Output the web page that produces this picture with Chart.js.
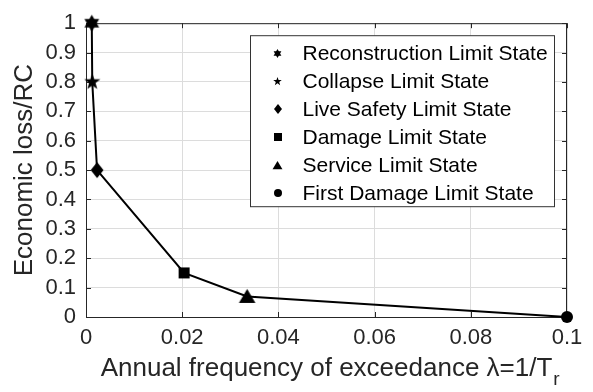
<!DOCTYPE html>
<html>
<head>
<meta charset="utf-8">
<script src="https://cdn.jsdelivr.net/npm/chart.js@4/dist/chart.umd.min.js"></script>
<style>
  html, body { margin: 0; padding: 0; background: #fff; }
  canvas { display: block; }
</style>
</head>
<body>
<canvas id="chart" width="593" height="392"></canvas>
<script>
// Limit states, their annual exceedance frequency and normalised economic loss
const limitStates = [
  'Reconstruction Limit State',
  'Collapse Limit State',
  'Live Safety Limit State',
  'Damage Limit State',
  'Service Limit State',
  'First Damage Limit State'
];
const markerShapes = ['hexagram', 'star', 'diamond', 'square', 'triangle', 'circle'];
const annualFrequency = [0.0012, 0.0013, 0.0023, 0.0204, 0.0335, 0.1];
const economicLoss = [1.0, 0.8, 0.5, 0.15, 0.07, 0.0];
const xTickLabels = ['0', '0.02', '0.04', '0.06', '0.08', '0.1'];
const yTickLabels = ['0', '0.1', '0.2', '0.3', '0.4', '0.5', '0.6', '0.7', '0.8', '0.9', '1'];

const FONT = '"Liberation Sans", Arial, sans-serif';
const TICK_SIZE = 22;
const TITLE_SIZE = 26;
const LEGEND_SIZE = 21;

// Build a small canvas holding one filled marker glyph
function makeMarker(shape, r) {
  const pad = 2;
  const s = Math.ceil(2 * r + 2 * pad);
  const c = document.createElement('canvas');
  c.width = s; c.height = s;
  const g = c.getContext('2d');
  g.fillStyle = '#000';
  g.translate(s / 2, s / 2);
  const poly = (pts) => {
    g.beginPath();
    pts.forEach((p, i) => i ? g.lineTo(p[0], p[1]) : g.moveTo(p[0], p[1]));
    g.closePath();
    g.fill();
  };
  if (shape === 'hexagram') {
    for (let t = 0; t < 2; t++) {
      const pts = [];
      for (let i = 0; i < 3; i++) {
        const a = -Math.PI / 2 + t * Math.PI + i * 2 * Math.PI / 3;
        pts.push([r * Math.cos(a), r * Math.sin(a)]);
      }
      poly(pts);
    }
  } else if (shape === 'star') {
    const pts = [];
    for (let i = 0; i < 10; i++) {
      const a = -Math.PI / 2 + i * Math.PI / 5;
      const rr = i % 2 ? r * 0.4 : r;
      pts.push([rr * Math.cos(a), rr * Math.sin(a)]);
    }
    poly(pts);
  } else if (shape === 'diamond') {
    poly([[0, -r], [r * 0.8, 0], [0, r], [-r * 0.8, 0]]);
  } else if (shape === 'square') {
    poly([[-r, -r], [r, -r], [r, r], [-r, r]]);
  } else if (shape === 'triangle') {
    poly([[0, -r], [r * 1.1, r * 0.85], [-r * 1.1, r * 0.85]]);
  } else {
    g.beginPath();
    g.arc(0, 0, r, 0, Math.PI * 2);
    g.fill();
  }
  return c;
}

const plotSizes = { hexagram: 8.5, star: 8.5, diamond: 8, square: 5.5, triangle: 7.5, circle: 6 };
const legendSizes = { hexagram: 4.5, star: 4.5, diamond: 5, square: 4, triangle: 4.5, circle: 4 };
const plotMarkers = markerShapes.map(s => makeMarker(s, plotSizes[s]));
const legendMarkers = markerShapes.map(s => makeMarker(s, legendSizes[s]));

// Box around the axes with inward tick marks on all four sides
const framePlugin = {
  id: 'frame',
  beforeDatasetsDraw(chart) {
    const { ctx, chartArea: a, scales: { x, y } } = chart;
    ctx.save();
    ctx.strokeStyle = '#262626';
    ctx.lineWidth = 1;
    ctx.beginPath();
    ctx.moveTo(a.left, a.top + 0.5); ctx.lineTo(a.right, a.top + 0.5);
    ctx.moveTo(a.right - 0.5, a.top); ctx.lineTo(a.right - 0.5, a.bottom);
    const tl = 5;
    x.ticks.forEach(t => {
      const px = Math.round(x.getPixelForValue(t.value)) + 0.5;
      ctx.moveTo(px, a.bottom); ctx.lineTo(px, a.bottom - tl);
      ctx.moveTo(px, a.top); ctx.lineTo(px, a.top + tl);
    });
    y.ticks.forEach(t => {
      const py = Math.round(y.getPixelForValue(t.value)) + 0.5;
      ctx.moveTo(a.left, py); ctx.lineTo(a.left + tl, py);
      ctx.moveTo(a.right, py); ctx.lineTo(a.right - tl, py);
    });
    ctx.stroke();
    ctx.restore();
  }
};

// Subscript "r" after the x-axis title
const subscriptPlugin = {
  id: 'subscript',
  afterDraw(chart) {
    const { ctx, scales: { x } } = chart;
    const t = x.options.title;
    ctx.save();
    ctx.font = TITLE_SIZE + 'px ' + FONT;
    const w = ctx.measureText(t.text).width;
    const cx = (x.left + x.right) / 2;
    const cy = x.bottom - TITLE_SIZE * 1.2 / 2 - t.padding.bottom;
    ctx.font = Math.round(TITLE_SIZE * 0.72) + 'px ' + FONT;
    ctx.fillStyle = '#262626';
    ctx.textBaseline = 'alphabetic';
    ctx.textAlign = 'left';
    ctx.fillText('r', cx + w / 2 + 1, cy + TITLE_SIZE * 0.36 + 7);
    ctx.restore();
  }
};

// Boxed legend inside the plot area
const legendPlugin = {
  id: 'stateLegend',
  afterDatasetsDraw(chart) {
    const { ctx, chartArea: a } = chart;
    const bx = a.left + 164.5, by = a.top + 12.5, bw = 304, bh = 171;
    ctx.save();
    ctx.fillStyle = '#fff';
    ctx.fillRect(bx, by, bw, bh);
    ctx.strokeStyle = '#333';
    ctx.lineWidth = 1;
    ctx.strokeRect(bx, by, bw, bh);
    ctx.font = LEGEND_SIZE + 'px ' + FONT;
    ctx.fillStyle = '#000';
    ctx.textBaseline = 'middle';
    ctx.textAlign = 'left';
    limitStates.forEach((name, i) => {
      const cy = by + 17.5 + i * 28;
      const m = legendMarkers[i];
      ctx.drawImage(m, Math.round(bx + 27 - m.width / 2), Math.round(cy - m.height / 2));
      ctx.fillText(name, bx + 52, cy + 1);
    });
    ctx.restore();
  }
};

new Chart(document.getElementById('chart'), {
  type: 'line',
  data: {
    datasets: [{
      label: 'Economic loss',
      data: annualFrequency.map((f, i) => ({ x: f, y: economicLoss[i] })),
      borderColor: '#000',
      borderWidth: 2,
      pointStyle: plotMarkers,
      pointBackgroundColor: '#000',
      pointBorderColor: '#000',
      tension: 0,
      clip: false
    }]
  },
  options: {
    responsive: false,
    animation: false,
    events: [],
    layout: { padding: { top: 17, right: 26, left: 0, bottom: 0 } },
    plugins: { legend: { display: false }, tooltip: { enabled: false } },
    scales: {
      x: {
        type: 'linear',
        min: 0, max: 0.1,
        afterFit(scale) { scale.height = 75; },
        afterBuildTicks(scale) {
          scale.ticks = xTickLabels.map(v => ({ value: parseFloat(v) }));
        },
        ticks: {
          callback: (v, i) => xTickLabels[i],
          font: { family: FONT, size: TICK_SIZE },
          color: '#262626',
          padding: 8,
          maxRotation: 0,
          autoSkip: false
        },
        grid: { color: '#dcdcdc', drawTicks: false },
        border: { color: '#262626', width: 1 },
        title: {
          display: true,
          text: 'Annual frequency of exceedance \u03bb=1/T',
          font: { family: FONT, size: TITLE_SIZE },
          color: '#262626',
          padding: { top: 0, bottom: 8 }
        }
      },
      y: {
        type: 'linear',
        min: 0, max: 1,
        afterFit(scale) { scale.width = 86; },
        afterBuildTicks(scale) {
          scale.ticks = yTickLabels.map(v => ({ value: parseFloat(v) }));
        },
        ticks: {
          callback: (v, i) => yTickLabels[i],
          font: { family: FONT, size: TICK_SIZE },
          color: '#262626',
          padding: 10,
          autoSkip: false
        },
        grid: { color: '#dcdcdc', drawTicks: false },
        border: { color: '#262626', width: 1 },
        title: {
          display: true,
          text: 'Economic loss/RC',
          font: { family: FONT, size: TITLE_SIZE },
          color: '#262626',
          padding: { top: 9, bottom: 0 }
        }
      }
    }
  },
  plugins: [framePlugin, legendPlugin, subscriptPlugin]
});
</script>
</body>
</html>
